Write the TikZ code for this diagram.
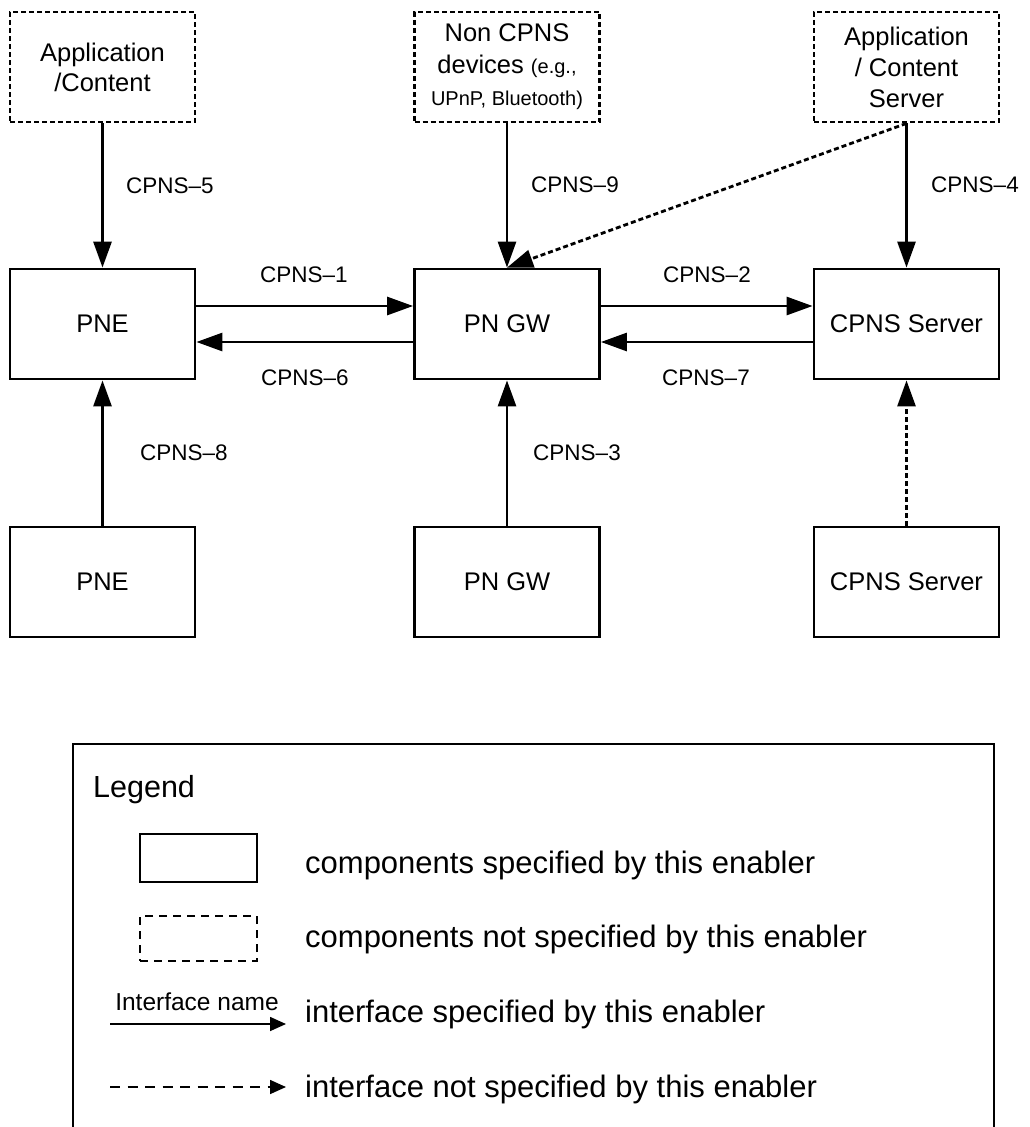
\documentclass[tikz,border=0pt]{standalone}
\usepackage{fontspec}
\setmainfont{Liberation Sans}
\usetikzlibrary{arrows.meta}
\begin{document}
\begin{tikzpicture}[x=1pt,y=-1pt,
  comp/.style={draw, line width=2.8pt, minimum width=185pt, minimum height=110pt,
    inner sep=0pt, align=center, font=\fontsize{25.5}{30}\selectfont},
  extcomp/.style={comp, dash pattern=on 5pt off 3pt},
  iface/.style={line width=2.8pt, -{Triangle[length=26pt,width=18pt]}},
  ifdash/.style={iface, dash pattern=on 5pt off 3pt},
  lbl/.style={inner sep=0pt, font=\fontsize{22.5}{24}\selectfont},
  legtxt/.style={inner sep=0pt, anchor=base west, font=\fontsize{31}{34}\selectfont},
  legitem/.style={draw, line width=1.5pt, minimum width=117pt, inner sep=0pt},
  legarrow/.style={line width=1.6pt, -{Triangle[length=16pt,width=14pt]}}
]
\useasboundingbox (0,0) rectangle (1030,1127);

% top (not specified) components
\node[extcomp] (app) at (102.5,67) {Application\\/Content};
\node[extcomp, font=\fontsize{25.5}{32}\selectfont] (noncpns) at (507,67)
  {Non CPNS\\devices {\fontsize{20}{32}\selectfont (e.g.,}\\{\fontsize{20}{32}\selectfont UPnP, Bluetooth)}};
\node[extcomp, font=\fontsize{25.5}{31}\selectfont] (appsrv) at (906.5,67) {Application\\/ Content\\Server};

% middle row
\node[comp] (pne) at (102.5,324) {PNE};
\node[comp] (gw) at (507,324) {PN GW};
\node[comp] (srv) at (906.5,324) {CPNS Server};

% bottom row
\node[comp] (pne2) at (102.5,582) {PNE};
\node[comp] (gw2) at (507,582) {PN GW};
\node[comp] (srv2) at (906.5,582) {CPNS Server};

% connectors
\draw[iface] (app) -- (pne);
\draw[iface] (noncpns) -- (gw);
\draw[iface] (appsrv) -- (srv);
\draw[ifdash] (appsrv.south) -- (gw.north);
\draw[iface] ([yshift=18pt]pne.east) -- ([yshift=18pt]gw.west);
\draw[iface] ([yshift=-18pt]gw.west) -- ([yshift=-18pt]pne.east);
\draw[iface] ([yshift=18pt]gw.east) -- ([yshift=18pt]srv.west);
\draw[iface] ([yshift=-18pt]srv.west) -- ([yshift=-18pt]gw.east);
\draw[iface] (pne2) -- (pne);
\draw[iface] (gw2) -- (gw);
\draw[ifdash] (srv2) -- (srv);

% connector labels
\node[lbl] (l5) at (170,186) {CPNS–5};
\node[lbl] (l9) at (575,185) {CPNS–9};
\node[lbl] (l4) at (975,185) {CPNS–4};
\node[lbl] (l1) at (304,275) {CPNS–1};
\node[lbl] (l6) at (305,378) {CPNS–6};
\node[lbl] (l2) at (707,275) {CPNS–2};
\node[lbl] (l7) at (706,378) {CPNS–7};
\node[lbl] (l8) at (184,453) {CPNS–8};
\node[lbl] (l3) at (577,453) {CPNS–3};

% legend
\draw[line width=1.5pt] (73,1130) -- (73,744) -- (994,744) -- (994,1130);
\node[legtxt, font=\fontsize{30.5}{34}\selectfont] (legtitle) at (93,797) {Legend};
\node[legitem, minimum height=48pt] (lsolid) at (198.5,858) {};
\node[legitem, minimum height=45pt, dash pattern=on 8pt off 6pt] (ldashed) at (198.5,938.5) {};
\coordinate (la1) at (110,1024);
\coordinate (la2) at (286,1024);
\draw[legarrow] (la1) -- (la2);
\node[inner sep=0pt, font=\fontsize{24.5}{26}\selectfont] (ifname) at (197,1002) {Interface name};
\coordinate (lb1) at (110,1087);
\coordinate (lb2) at (286,1087);
\draw[legarrow, dash pattern=on 10pt off 7.5pt] (lb1) -- (lb2);
\node[legtxt] (t1) at (305,873) {components specified by this enabler};
\node[legtxt] (t2) at (305,947) {components not specified by this enabler};
\node[legtxt] (t3) at (305,1022) {interface specified by this enabler};
\node[legtxt] (t4) at (305,1097) {interface not specified by this enabler};
\end{tikzpicture}
\end{document}
